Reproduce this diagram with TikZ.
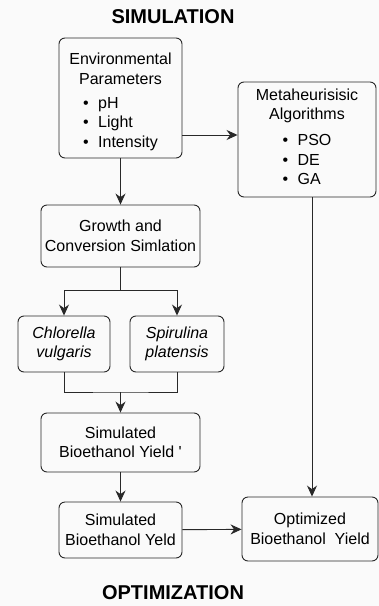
\documentclass[tikz,border=0pt]{standalone}
\usepackage{fontspec}
\setmainfont{Liberation Sans}
\usepackage{tikz}
\usetikzlibrary{arrows.meta,positioning}

\definecolor{linegray}{RGB}{40,40,40}
\definecolor{bggray}{RGB}{250,250,250}
\newcommand{\bul}[1]{\makebox[15pt][l]{\textbullet}#1}

\tikzset{
	box/.style={draw=linegray, line width=0.9pt, rounded corners=6pt, align=center,
		inner sep=2pt, font=\fontsize{16}{19.5}\selectfont},
	title/.style={font=\fontsize{20}{24}\selectfont\bfseries},
	arr/.style={draw=linegray, line width=0.9pt, -{Stealth[length=11pt,width=10pt]}},
	ln/.style={draw=linegray, line width=0.9pt}
}

\begin{document}
\begin{tikzpicture}[x=1pt,y=-1pt]
	\fill[bggray] (0,0) rectangle (379,606);
	\useasboundingbox (0,0) rectangle (379,606);
	\path (173,17) node (simtitle) [title] {SIMULATION}
		  (120.5,98) node (env) [box, minimum width=123pt, minimum height=120pt]
			{\rule{0pt}{22pt}Environmental\\Parameters\\[9pt]
			 \begin{tabular}{@{}l@{}}\bul{pH}\\ \bul{Light}\\ \bul{Intensity}\end{tabular}}
		  (307,139.5) node (meta) [box, minimum width=138pt, minimum height=115pt]
			{Metaheurisisic\\Algorithms\\[8pt]
			 \begin{tabular}{@{}l@{}}\bul{PSO}\\ \bul{DE}\\ \bul{GA}\end{tabular}}
		  (120.5,236) node (growth) [box, minimum width=159pt, minimum height=62pt]
			{Growth and\\Conversion Simlation}
		  (64,344) node (chl) [box, minimum width=92pt, minimum height=56pt]
			{\itshape Chlorella\\\itshape vulgaris}
		  (177,344) node (spi) [box, minimum width=94pt, minimum height=56pt]
			{\itshape Spirulina\\\itshape platensis}
		  (120.5,442.5) node (sim1) [box, minimum width=159pt, minimum height=59pt]
			{Simulated\\Bioethanol Yield \textquotesingle}
		  (120.5,530) node (sim2) [box, minimum width=123pt, minimum height=56pt]
			{Simulated\\Bioethanol Yeld}
		  (310,529) node (opt) [box, minimum width=136pt, minimum height=64pt]
			{Optimized\\Bioethanol\ \ Yield}
		  (173,593) node (opttitle) [title] {OPTIMIZATION};
	% simulation branch
	\draw[arr] (env) -- (growth);
	\draw[ln] (growth.south) -- ++(0,23) coordinate (split);
	\draw[arr] (split) -| (chl.north);
	\draw[arr] (split) -| (spi.north);
	\coordinate (merge) at (120.5,392);
	\draw[ln] (chl.south) |- (merge) -| (spi.south);
	\draw[arr] (merge) -- (sim1);
	\draw[arr] (sim1) -- (sim2);
	% optimization branch
	\draw[arr] (env.east |- 0,135) -- (meta.west |- 0,135);
	\draw[arr] (meta.south -| 312,0) -- (opt.north -| 312,0);
	\draw[arr] (sim2) -- (opt);
\end{tikzpicture}
\end{document}
